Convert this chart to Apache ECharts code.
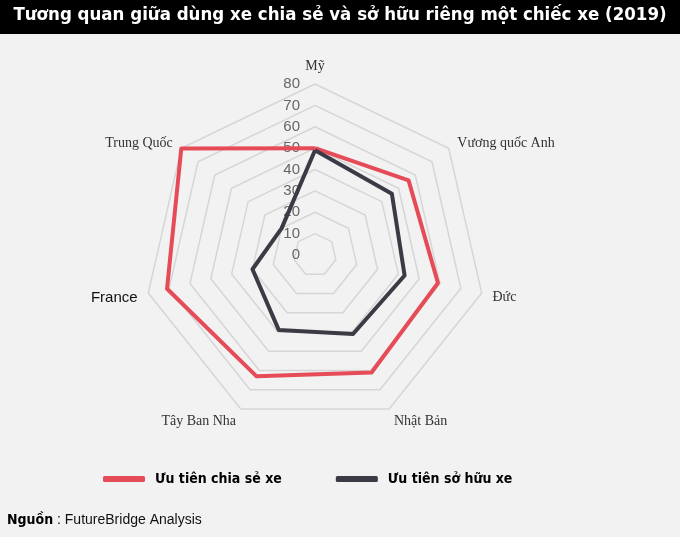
<!DOCTYPE html>
<html><head><meta charset="utf-8">
<script src="https://cdn.jsdelivr.net/npm/echarts@6/dist/echarts.min.js"></script>
<style>html,body{margin:0;padding:0;background:#f2f2f2}#c{width:680px;height:537px}</style>
</head><body><div id="c"></div>
<script>
// clockwise from top
const countries = ['Mỹ', 'Vương quốc Anh', 'Đức', 'Nhật Bản', 'Tây Ban Nha', 'France', 'Trung Quốc'];
const shareValues = [50, 56, 59, 61, 63, 71, 80];
const ownValues = [49, 46, 43, 41, 39, 30, 20];
const seriesNames = ['Ưu tiên chia sẻ xe', 'Ưu tiên sở hữu xe'];
const axisMax = 80;
const axisStep = 10;

// ECharts radar runs counter-clockwise: keep first, reverse the rest
function ccw(arr) { return [arr[0]].concat(arr.slice(1).reverse()); }

const indicator = ccw(countries).map(function (n, i) {
  return { name: n, max: axisMax, min: 0, axisLabel: { show: i === 0 } };
});

const chart = echarts.init(document.getElementById('c'));
chart.setOption({
  backgroundColor: '#f2f2f2',
  animation: false,
  graphic: [
    { type: 'rect', left: 0, top: 0, z: 0, shape: { width: 680, height: 34 }, style: { fill: '#000' } },
    { type: 'text', left: 'center', top: 6, z: 1, style: { text: 'Tương quan giữa dùng xe chia sẻ và sở hữu riêng một chiếc xe (2019)', fill: '#fff', font: 'bold 18.5px "DejaVu Sans Condensed"' } },
    { type: 'text', left: 7, top: 513, style: { rich: { b: { fontFamily: '"DejaVu Sans Condensed"', fontWeight: 'bold', fontSize: 14, fill: '#000' }, n: { fontFamily: '"Liberation Sans"', fontSize: 14, fill: '#111' } }, text: '{b|Nguồn}{n| : FutureBridge Analysis}' } }
  ],
  legend: {
    bottom: 46,
    left: 98,
    itemGap: 54,
    itemWidth: 42,
    itemHeight: 6,
    icon: 'roundRect',
    textStyle: { fontFamily: '"DejaVu Sans Condensed"', fontWeight: 'bold', fontSize: 14, color: '#000', padding: [0, 0, 0, 5] },
    data: seriesNames
  },
  radar: {
    center: [315, 255],
    radius: 171,
    startAngle: 90,
    shape: 'polygon',
    splitNumber: axisMax / axisStep,
    nameGap: 11,
    axisName: {
      formatter: function (name) { return name === 'France' ? '{f|' + name + '}' : '{s|' + name + '}'; },
      rich: {
        s: { fontFamily: '"Liberation Serif"', fontSize: 14, color: '#333', padding: [4, 0, 0, 0] },
        f: { fontFamily: '"Liberation Sans"', fontSize: 15, color: '#111', padding: [4, 0, 0, 0] }
      }
    },
    axisLine: { show: false },
    axisTick: { show: false },
    splitArea: { show: false },
    splitLine: { lineStyle: { color: '#d6d6d6', width: 1.5 } },
    axisLabel: { show: false, color: '#666', fontFamily: '"Liberation Sans"', fontSize: 15, margin: 15 },
    indicator: indicator
  },
  series: [{
    type: 'radar',
    symbol: 'none',
    data: [
      { name: seriesNames[0], value: ccw(shareValues), lineStyle: { color: '#e64c58', width: 4 }, itemStyle: { color: '#e64c58' } },
      { name: seriesNames[1], value: ccw(ownValues), lineStyle: { color: '#3b3b45', width: 4 }, itemStyle: { color: '#3b3b45' } }
    ]
  }]
});
</script></body></html>
